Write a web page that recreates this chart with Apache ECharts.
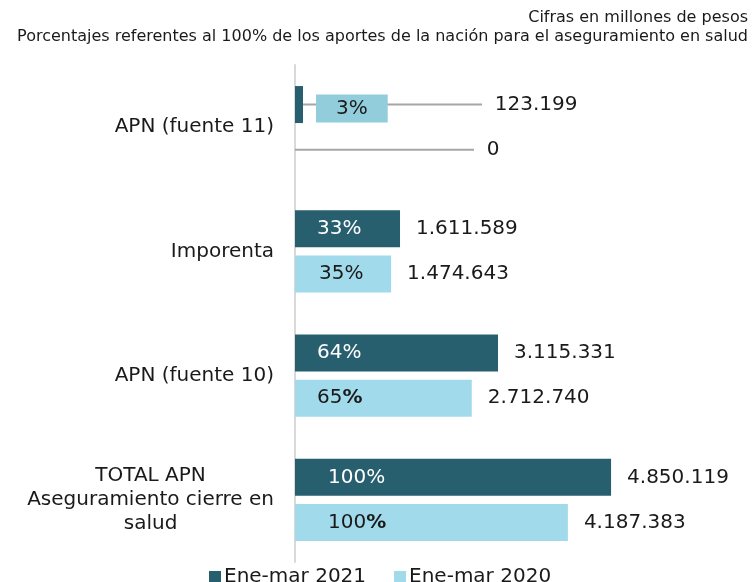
<!DOCTYPE html>
<html lang="es">
<head>
<meta charset="UTF-8">
<title></title>
<style>
    html, body { margin: 0; padding: 0; background: #fff; }
    #main { width: 752px; height: 582px; }
</style>
</head>
<body>
<div id="main"></div>
<script src="https://cdn.jsdelivr.net/npm/echarts@6/dist/echarts.min.js"></script>
<script>
var categories = ['APN (fuente 11)', 'Imporenta', 'APN (fuente 10)', 'TOTAL APN\nAseguramiento cierre en\nsalud'];
var values2021 = [123199, 1611589, 3115331, 4850119];
var values2020 = [0, 1474643, 2712740, 4187383];
var pct2021 = ['3%', '33%', '64%', '100%'];
var pct2020 = ['', '35%', '65%', '100%'];
var legendNames = ['Ene-mar 2021', 'Ene-mar 2020'];

var DARK = '#285f6f', LIGHT = '#a1dbeb';
var FONT = 'DejaVu Sans';

function miles(v) {
    return String(v).replace(/\B(?=(\d{3})+(?!\d))/g, '.');
}

// first row labels are pulled out to the right with a guide line,
// the leading spaces leave a gap between line end and text
function valueLabel(p) {
    return (p.dataIndex === 0 ? '  ' : '') + miles(p.value);
}

// offsets of the % labels from the start of each bar
var pctX2021 = [21, 22, 22, 33];
var pctX2020 = [0, 24, 22, 33];

function valueData(vals) {
    return vals.map(function (v, i) {
        if (i === 0) return { value: v, labelLine: { show: true } };
        return v;
    });
}

function pctData(vals, pct, xs, dark) {
    return vals.map(function (v, i) {
        var lab = { position: [xs[i], '50%'], verticalAlign: 'middle' };
        if (!pct[i]) lab.show = false;
        if (dark && i === 0) {
            lab.color = '#1a1a1a';
            lab.backgroundColor = '#92cddc';
            lab.padding = [5, 20, 3, 20];
            lab.offset = [0, 4];
        }
        return { value: v, label: lab };
    });
}

var myChart = echarts.init(document.getElementById('main'));
var option = {
    animation: false,
    textStyle: { fontFamily: FONT },
    graphic: [
        { type: 'text', right: 4, top: 10, style: { text: 'Cifras en millones de pesos', font: '16px "DejaVu Sans"', fill: '#1a1a1a', textAlign: 'right' } },
        { type: 'text', right: 4, top: 29, style: { text: 'Porcentajes referentes al 100% de los aportes de la nación para el aseguramiento en salud', font: '16px "DejaVu Sans"', fill: '#1a1a1a', textAlign: 'right' } }
    ],
    legend: {
        data: legendNames,
        left: 204,
        top: 562,
        icon: 'rect',
        itemWidth: 12,
        itemHeight: 12,
        itemGap: 28,
        textStyle: { fontSize: 20, color: '#1a1a1a', fontFamily: FONT, padding: [2, 0, 0, -2] }
    },
    grid: { left: 295, right: 66, top: 65, bottom: 20 },
    xAxis: { type: 'value', min: 0, max: 6000000, show: false },
    yAxis: [{
        type: 'category',
        data: categories,
        inverse: true,
        axisTick: { show: false },
        axisLine: { lineStyle: { color: '#d9d9d9', width: 2 } },
        axisLabel: {
            margin: 21,
            fontSize: 20,
            color: '#1a1a1a',
            fontFamily: FONT,
            formatter: function (v) {
                if (v.indexOf('\n') < 0) return v;
                return v.split('\n').map(function (s) { return '{c|' + s + '}'; }).join('\n');
            },
            rich: { c: { align: 'center', fontSize: 20, lineHeight: 24, color: '#1a1a1a', fontFamily: FONT } }
        }
    }, {
        type: 'category',
        data: categories,
        inverse: true,
        show: false
    }],
    series: [{
        name: legendNames[0],
        type: 'bar',
        data: valueData(values2021),
        barWidth: 37,
        barGap: '22%',
        itemStyle: { color: DARK },
        label: { show: true, position: 'right', distance: 16, fontSize: 20, color: '#1a1a1a', fontFamily: FONT, formatter: valueLabel },
        labelLine: { lineStyle: { color: '#a6a6a6', width: 2 } },
        labelLayout: function (p) { return p.dataIndex === 0 ? { dx: 163 } : {}; }
    }, {
        name: legendNames[1],
        type: 'bar',
        data: valueData(values2020),
        barWidth: 37,
        barGap: '22%',
        itemStyle: { color: LIGHT },
        label: { show: true, position: 'right', distance: 16, fontSize: 20, color: '#1a1a1a', fontFamily: FONT, formatter: valueLabel },
        labelLine: { lineStyle: { color: '#a6a6a6', width: 2 } },
        labelLayout: function (p) { return p.dataIndex === 0 ? { dx: 163 } : {}; }
    }, {
        name: 'pct2021',
        type: 'bar',
        yAxisIndex: 1,
        silent: true,
        data: pctData(values2021, pct2021, pctX2021, true),
        barWidth: 37,
        barGap: '22%',
        itemStyle: { color: 'rgba(0,0,0,0)' },
        label: { show: true, fontSize: 20, color: '#ffffff', fontFamily: FONT, formatter: function (p) { return pct2021[p.dataIndex]; } }
    }, {
        name: 'pct2020',
        type: 'bar',
        yAxisIndex: 1,
        silent: true,
        data: pctData(values2020, pct2020, pctX2020, false),
        barWidth: 37,
        barGap: '22%',
        itemStyle: { color: 'rgba(0,0,0,0)' },
        label: {
            show: true, fontSize: 20, color: '#1a1a1a', fontFamily: FONT,
            formatter: function (p) {
                var s = pct2020[p.dataIndex];
                return p.dataIndex >= 2 ? s.replace('%', '{b|%}') : s;
            },
            rich: { b: { fontWeight: 'bold', fontSize: 20, color: '#1a1a1a', fontFamily: FONT } }
        }
    }]
};
myChart.setOption(option);
window.addEventListener('resize', function () {
    myChart.resize();
});
</script>
</body>
</html>
